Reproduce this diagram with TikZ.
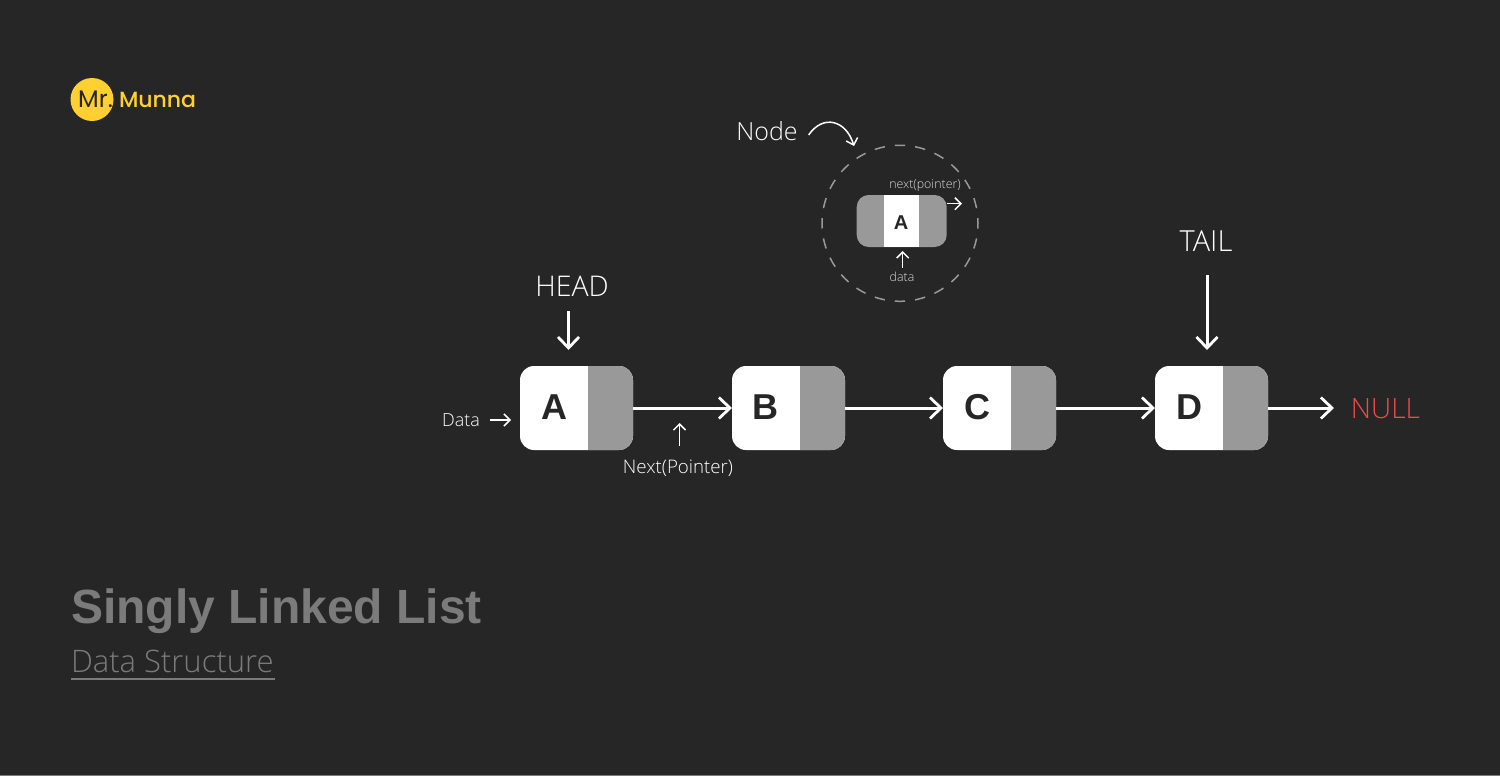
\documentclass[tikz,border=0pt]{standalone}
\usepackage{fontspec}
\usepackage{xcolor}
\usetikzlibrary{arrows.meta}
\setmainfont{Open Sans Light}
\newfontfamily\boldfont{Liberation Sans Bold}
\newfontfamily\logofont{Poppins Medium}
\newfontfamily\logomrfont{Poppins}
\definecolor{bgdark}{HTML}{262626}
\definecolor{cellgray}{HTML}{999999}
\definecolor{titlegray}{HTML}{7B7B7B}
\definecolor{logoyellow}{HTML}{FFD02F}
\definecolor{nullred}{HTML}{EF4B4B}
\newcommand{\fs}[1]{\fontsize{#1}{#1}\selectfont}
\tikzset{
	lbl/.style={inner sep=0pt,outer sep=0pt,text=white},
	listbox/.style={fill=white,minimum width=113pt,minimum height=84pt,inner sep=0pt,outer sep=0pt,rounded corners=14pt,
		path picture={\fill[cellgray,sharp corners] ([xshift=-45pt]path picture bounding box.north east) rectangle (path picture bounding box.south east);}},
	minibox/.style={fill=cellgray,minimum width=90pt,minimum height=52pt,inner sep=0pt,outer sep=0pt,rounded corners=12pt,
		path picture={\fill[white,sharp corners] ([xshift=-17.5pt]path picture bounding box.north) rectangle ([xshift=17pt]path picture bounding box.south);}},
	letter/.style={inner sep=0pt,outer sep=0pt,text=bgdark,font=\boldfont\fs{36}},
	bigarrow/.style={color=white,line width=3pt,->,>={Straight Barb[length=11pt,width=21pt,line width=2.8pt]}},
	thinarrow/.style={color=white,line width=1.5pt,->,>={Straight Barb[length=6pt,width=12pt,line width=1.5pt]}},
}
\begin{document}
\begin{tikzpicture}[x=1pt,y=-1pt]
	\useasboundingbox (0,0) rectangle (1500,776);
	\fill[bgdark] (0,0) rectangle (1500,776);
	\fill[titlegray] (0,775) rectangle (1500,776);
	% logo
	\node[circle,fill=logoyellow,minimum size=43pt,inner sep=0pt,outer sep=0pt] (logo) at (92,99.5) {};
	\node[lbl,text=bgdark,font=\logomrfont\fs{24}] (logomr) at (95.5,99.5) {Mr.};
	\node[lbl,text=logoyellow,anchor=west,font=\logofont\fs{22}] (logoname) at (119,100) {Munna};
	% title
	\node[lbl,text=titlegray,anchor=base west,font=\boldfont\fs{48}] (title) at (71,623) {Singly Linked List};
	\node[lbl,text=titlegray,anchor=base west,font=\fs{31}] (subtitle) at (71,672) {Data Structure};
	\draw[color=titlegray,line width=2pt] (subtitle.west |- 0,679) -- (275,679);
	% the list
	\foreach \nm/\cx/\cy/\txt in {a/576.5/554/A,b/788.5/765.5/B,c/999.5/977.5/C,d/1211.5/1189/D}{
		\node[listbox] (\nm) at (\cx,408) {};
		\node[letter] (let\nm) at (\cy,407) {\txt};
	}
	\draw[bigarrow] (a) -- (b);
	\draw[bigarrow] (b) -- (c);
	\draw[bigarrow] (c) -- (d);
	\node[lbl,text=nullred,font=\fs{28}] (nul) at (1385.5,408.5) {NULL};
	\draw[bigarrow,shorten >=17pt] (d.east) -- (nul.west |- d.east);
	% head and tail
	\node[lbl,font=\fs{28.5}] (head) at (572,286) {HEAD};
	\coordinate (headx) at (568.5,0);
	\draw[bigarrow,shorten <=15pt,shorten >=16pt] (headx |- head.south) -- (headx |- a.north);
	\node[lbl,font=\fs{29}] (tail) at (1206,241) {TAIL};
	\coordinate (tailx) at (1207,0);
	\draw[bigarrow,shorten <=24pt,shorten >=16pt] (tailx |- tail.south) -- (tailx |- d.north);
	% small labels
	\node[lbl,font=\fs{18}] (data) at (461,420) {Data};
	\draw[thinarrow,shorten <=10pt,shorten >=9pt] (data.east) -- (data.east -| a.west);
	\node[lbl,font=\fs{18.7}] (nextlbl) at (678,468.5) {Next(Pointer)};
	\coordinate (nextx) at (679.5,408);
	\draw[thinarrow,shorten <=14pt] (nextx |- nextlbl.north) -- (nextx |- 0,423);
	% zoomed node
	\node[circle,draw=cellgray,dash pattern=on 10.4pt off 10.02pt,dash phase=5.2pt,line width=1.5pt,minimum size=156pt,inner sep=0pt] (ring) at (900,223.3) {};
	\node[minibox] (mini) at (901.7,221) {};
	\node[letter,font=\boldfont\fs{20}] (letmini) at (901.2,223) {A};
	\node[lbl,text=white!85!black,font=\fs{12.4}] (nextmini) at (925,185) {next(pointer)};
	\node[lbl,text=white!85!black,font=\fs{12.4}] (datamini) at (902,277) {data};
	\coordinate (nextend) at (962,203.7);
	\draw[thinarrow] (nextend -| mini.east) -- (nextend);
	\draw[thinarrow,shorten <=4pt,shorten >=4pt] ([xshift=0.7pt]datamini.north) -- ([xshift=0.7pt]datamini.north |- mini.south);
	\node[lbl,font=\fs{25}] (nodelbl) at (767,131) {Node};
	\coordinate (nodeend) at (854,146);
	\draw[thinarrow] ([xshift=11pt,yshift=-4pt]nodelbl.east) .. controls (823,114) and (846,120) .. (nodeend);
\end{tikzpicture}
\end{document}
